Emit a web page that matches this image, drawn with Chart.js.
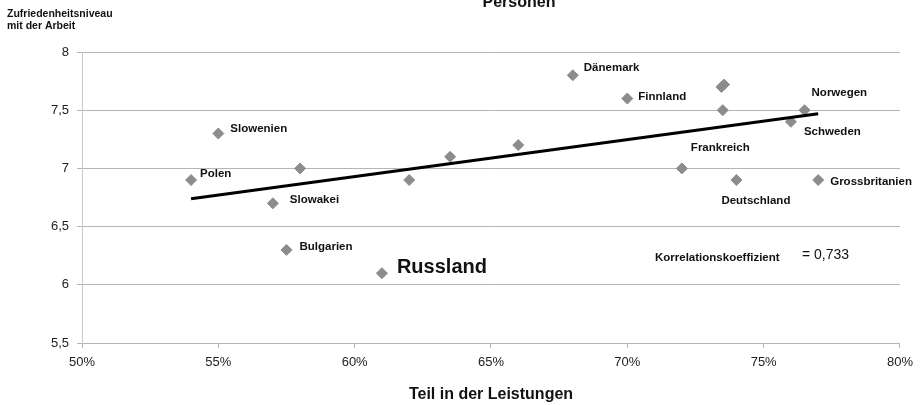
<!DOCTYPE html>
<html>
<head>
<meta charset="utf-8">
<script src="https://cdn.jsdelivr.net/npm/chart.js@4/dist/chart.umd.min.js"></script>
<style>
  body { margin: 0; background: #fff; }
  #wrap { width: 920px; height: 405px; }
</style>
</head>
<body>
<div id="wrap"><canvas id="scatterChart" width="920" height="405"></canvas></div>
<script>
// Länder (leerer Name = Punkt ohne Beschriftung)
const countries = ['Polen', 'Slowenien', 'Slowakei', '', 'Bulgarien', 'Russland', '', '', '',
    'Dänemark', 'Finnland', '', '', '', 'Frankreich', 'Deutschland', 'Schweden', 'Norwegen', 'Grossbritanien'];
// Teil in der Leistungen (%)
const shareValues = [54, 55, 57, 58, 57.5, 61, 62, 63.5, 66,
    68, 70, 73.45, 73.55, 73.5, 72, 74, 76, 76.5, 77];
// Zufriedenheitsniveau mit der Arbeit
const satisfactionValues = [6.9, 7.3, 6.7, 7.0, 6.3, 6.1, 6.9, 7.1, 7.2,
    7.8, 7.6, 7.7, 7.72, 7.5, 7.0, 6.9, 7.4, 7.5, 6.9];
// Trendlinie (Anfang und Ende)
const trendX = [54, 77];
const trendY = [6.74, 7.47];
// Achsen
const xTicks = [50, 55, 60, 65, 70, 75, 80];
const yTicks = [5.5, 6, 6.5, 7, 7.5, 8];
const correlation = '0,733';

// Beschriftungsversatz in Pixeln (nur Layout)
const labelOffsets = {
    'Polen': [9, -6], 'Slowenien': [12, -5], 'Slowakei': [17, -3], 'Bulgarien': [13, -3],
    'Russland': [15, -6], 'Dänemark': [11, -7], 'Finnland': [11, -2], 'Frankreich': [9, -21],
    'Deutschland': [-15, 21], 'Schweden': [13, 10], 'Norwegen': [7, -17], 'Grossbritanien': [12, 2]
};

const points = shareValues.map((x, i) => ({ x: x, y: satisfactionValues[i] }));
const trend = trendX.map((x, i) => ({ x: x, y: trendY[i] }));

const fontFamily = '"Liberation Sans", Arial, sans-serif';

// Texte: Titel, Achsenbeschriftung, Länder, Korrelation
const textPlugin = {
    id: 'texts',
    afterDatasetsDraw(chart) {
        const ctx = chart.ctx;
        const xs = chart.scales.x;
        const ys = chart.scales.y;
        ctx.save();
        ctx.fillStyle = '#111';
        ctx.textBaseline = 'middle';
        ctx.textAlign = 'left';
        countries.forEach((name, i) => {
            if (!name) return;
            const off = labelOffsets[name] || [10, 0];
            const px = xs.getPixelForValue(shareValues[i]) + off[0];
            const py = ys.getPixelForValue(satisfactionValues[i]) + off[1];
            ctx.font = name === 'Russland' ? 'bold 20px ' + fontFamily : 'bold 11.5px ' + fontFamily;
            ctx.fillText(name, px, py);
        });

        ctx.font = 'bold 11.5px ' + fontFamily;
        ctx.fillText('Korrelationskoeffizient', 655, 258);
        ctx.font = '14px ' + fontFamily;
        ctx.fillText('= ' + correlation, 802, 255);

        ctx.font = 'bold 10.5px ' + fontFamily;
        ctx.fillText('Zufriedenheitsniveau', 7, 14);
        ctx.fillText('mit der Arbeit', 7, 26);

        ctx.textAlign = 'center';
        ctx.textBaseline = 'alphabetic';
        ctx.font = 'bold 16px ' + fontFamily;
        ctx.fillText('Personen', 519, 7);
        ctx.restore();
    }
};

const ctx = document.getElementById('scatterChart').getContext('2d');
const myChart = new Chart(ctx, {
    type: 'scatter',
    data: {
        datasets: [{
            label: 'Länder',
            data: points,
            pointStyle: 'rectRot',
            pointRadius: 5.5,
            pointBackgroundColor: '#8c8c8c',
            pointBorderColor: '#8c8c8c',
            pointBorderWidth: 1,
            order: 2
        }, {
            type: 'line',
            label: 'Trend',
            data: trend,
            borderColor: '#000',
            borderWidth: 3,
            pointRadius: 0,
            fill: false,
            order: 1
        }]
    },
    options: {
        responsive: false,
        animation: false,
        layout: { padding: { top: 52, right: 17, left: 0, bottom: 0 } },
        plugins: {
            legend: { display: false },
            tooltip: { enabled: false }
        },
        scales: {
            x: {
                type: 'linear',
                min: 50,
                max: 80,
                afterBuildTicks: scale => { scale.ticks = xTicks.map(v => ({ value: v })); },
                afterFit: scale => { scale.height = 62; },
                ticks: {
                    padding: 7,
                    color: '#222',
                    font: { family: fontFamily, size: 13 },
                    callback: v => v + '%'
                },
                grid: {
                    drawOnChartArea: false,
                    drawTicks: true,
                    tickLength: 5,
                    color: '#b5b5b5'
                },
                border: { color: '#b5b5b5' },
                title: {
                    display: true,
                    text: 'Teil in der Leistungen',
                    color: '#111',
                    font: { family: fontFamily, size: 16, weight: 'bold' },
                    padding: { top: 0, bottom: 1 }
                }
            },
            y: {
                min: 5.5,
                max: 8,
                afterBuildTicks: scale => { scale.ticks = yTicks.map(v => ({ value: v })); },
                afterFit: scale => { scale.width = 82; },
                ticks: {
                    padding: 8,
                    color: '#222',
                    font: { family: fontFamily, size: 13 },
                    callback: v => String(v).replace('.', ',')
                },
                grid: {
                    color: '#b5b5b5',
                    tickLength: 5
                },
                border: { color: '#c8c8c8' }
            }
        }
    },
    plugins: [textPlugin]
});
</script>
</body>
</html>
